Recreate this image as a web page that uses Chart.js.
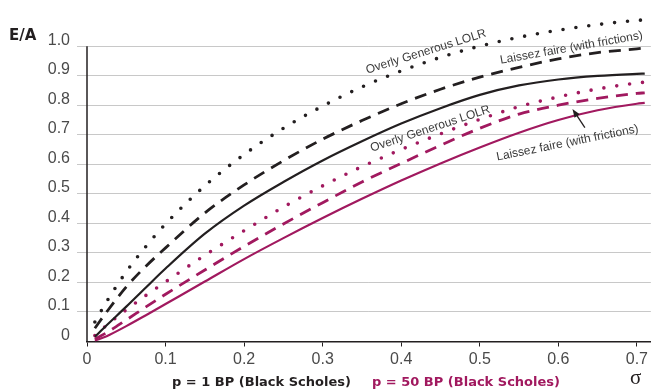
<!DOCTYPE html>
<html>
<head>
<meta charset="utf-8">
<script src="https://cdn.jsdelivr.net/npm/chart.js@4.4.1/dist/chart.umd.min.js"></script>
<style>
  body { margin: 0; background: #fff; }
  canvas { display: block; }
</style>
</head>
<body>
<canvas id="eaChart" width="651" height="391"></canvas>
<script>
// volatility (x axis)
const sigma = [0.01, 0.025, 0.05, 0.075, 0.1, 0.15, 0.2, 0.25, 0.3, 0.35, 0.4, 0.45, 0.5, 0.55, 0.6, 0.65, 0.7, 0.71];

// p = 1 BP series
const bpOneOverly = [0.066, 0.135, 0.236, 0.322, 0.398, 0.527, 0.633, 0.722, 0.797, 0.862, 0.916, 0.962, 1.0, 1.03, 1.054, 1.073, 1.087, 1.089];
const bpOneLaissez = [0.045, 0.1, 0.185, 0.255, 0.317, 0.435, 0.53, 0.612, 0.685, 0.748, 0.805, 0.854, 0.895, 0.928, 0.957, 0.978, 0.991, 0.994];
const bpOneBase = [0.016, 0.055, 0.118, 0.183, 0.247, 0.365, 0.46, 0.54, 0.613, 0.678, 0.738, 0.79, 0.835, 0.867, 0.887, 0.899, 0.906, 0.907];

// p = 50 BP series
const bpFiftyOverly = [0.02, 0.055, 0.107, 0.156, 0.202, 0.292, 0.375, 0.455, 0.527, 0.592, 0.65, 0.703, 0.752, 0.795, 0.828, 0.855, 0.875, 0.878];
const bpFiftyLaissez = [0.008, 0.03, 0.073, 0.117, 0.16, 0.242, 0.322, 0.398, 0.47, 0.54, 0.603, 0.664, 0.722, 0.77, 0.8, 0.823, 0.84, 0.842];
const bpFiftyBase = [0.003, 0.018, 0.052, 0.089, 0.127, 0.203, 0.279, 0.35, 0.418, 0.483, 0.545, 0.603, 0.657, 0.707, 0.75, 0.783, 0.805, 0.808];

// tick labels
const xTicks = [0, 0.1, 0.2, 0.3, 0.4, 0.5, 0.6, 0.7];
const yTicks = [0, 0.1, 0.2, 0.3, 0.4, 0.5, 0.6, 0.7, 0.8, 0.9, 1.0];

// curve labels (in data units) and the arrow
const curveLabels = [
  { text: "Overly Generous LOLR", x: 0.4315, y: 0.981, angle: -17.4 },
  { text: "Laissez faire (with frictions)", x: 0.6167, y: 0.994, angle: -10 },
  { text: "Overly Generous LOLR", x: 0.437, y: 0.72, angle: -18.4 },
  { text: "Laissez faire (with frictions)", x: 0.6116, y: 0.672, angle: -11.3 }
];
const arrowFrom = { x: 0.6338, y: 0.724 };
const arrowTo = { x: 0.618, y: 0.7875 };

const black = "#231f20";
const magenta = "#a1195f";

function pts(ys) {
  return sigma.map((s, i) => ({ x: s, y: ys[i] }));
}

function series(ys, color, style) {
  const ds = {
    data: pts(ys),
    borderColor: color,
    borderWidth: 2.2,
    pointRadius: 0,
    fill: false,
    cubicInterpolationMode: "monotone"
  };
  if (style === "dot") {
    ds.borderDash = [0, 13];
    ds.borderCapStyle = "round";
    ds.borderWidth = 3.6;
  } else if (style === "dash") {
    ds.borderDash = [12, 8];
    ds.borderWidth = 2.8;
  }
  return ds;
}

// labels, arrow, axis line and bottom captions
const decorations = {
  id: "decorations",
  afterDatasetsDraw(chart) {
    const ctx = chart.ctx;
    const xs = chart.scales.x;
    const ys = chart.scales.y;
    const area = chart.chartArea;

    ctx.save();
    // y axis line, only up to 1.0
    ctx.strokeStyle = black;
    ctx.lineWidth = 1.5;
    ctx.beginPath();
    ctx.moveTo(area.left, ys.getPixelForValue(0));
    ctx.lineTo(area.left, ys.getPixelForValue(1.0));
    ctx.stroke();

    // curve labels
    ctx.fillStyle = "#3a3a3a";
    ctx.font = "12px 'Liberation Sans', Arial, sans-serif";
    ctx.textAlign = "center";
    ctx.textBaseline = "middle";
    curveLabels.forEach((l) => {
      ctx.save();
      ctx.translate(xs.getPixelForValue(l.x), ys.getPixelForValue(l.y));
      ctx.rotate((l.angle * Math.PI) / 180);
      ctx.fillText(l.text, 0, 0);
      ctx.restore();
    });

    // arrow
    const x1 = xs.getPixelForValue(arrowFrom.x);
    const y1 = ys.getPixelForValue(arrowFrom.y);
    const x2 = xs.getPixelForValue(arrowTo.x);
    const y2 = ys.getPixelForValue(arrowTo.y);
    const a = Math.atan2(y2 - y1, x2 - x1);
    ctx.strokeStyle = black;
    ctx.fillStyle = black;
    ctx.lineWidth = 1.3;
    ctx.beginPath();
    ctx.moveTo(x1, y1);
    ctx.lineTo(x2 - 6 * Math.cos(a), y2 - 6 * Math.sin(a));
    ctx.stroke();
    ctx.beginPath();
    ctx.moveTo(x2, y2);
    ctx.lineTo(x2 - 9 * Math.cos(a - 0.35), y2 - 9 * Math.sin(a - 0.35));
    ctx.lineTo(x2 - 9 * Math.cos(a + 0.35), y2 - 9 * Math.sin(a + 0.35));
    ctx.closePath();
    ctx.fill();

    // E/A title
    ctx.fillStyle = black;
    ctx.font = "bold 15px 'DejaVu Sans', sans-serif";
    ctx.textAlign = "left";
    ctx.textBaseline = "alphabetic";
    ctx.fillText("E/A", 9, 40);

    // bottom captions
    ctx.font = "bold 13px 'DejaVu Sans', sans-serif";
    ctx.fillStyle = black;
    ctx.fillText("p = 1 BP (Black Scholes)", 172, 386);
    ctx.fillStyle = magenta;
    ctx.fillText("p = 50 BP (Black Scholes)", 372, 386);

    ctx.fillStyle = black;
    ctx.font = "21px 'Liberation Serif', serif";
    ctx.fillText("σ", 630, 384);
    ctx.restore();
  }
};

new Chart(document.getElementById("eaChart"), {
  type: "line",
  data: {
    datasets: [
      series(bpOneOverly, black, "dot"),
      series(bpOneLaissez, black, "dash"),
      series(bpOneBase, black, "solid"),
      series(bpFiftyOverly, magenta, "dot"),
      series(bpFiftyLaissez, magenta, "dash"),
      series(bpFiftyBase, magenta, "solid")
    ]
  },
  options: {
    responsive: false,
    animation: false,
    devicePixelRatio: 1,
    layout: { padding: { top: 10, right: 0, left: 0, bottom: 0 } },
    plugins: { legend: { display: false }, tooltip: { enabled: false } },
    scales: {
      x: {
        type: "linear",
        min: 0,
        max: 0.7178,
        afterBuildTicks: (axis) => {
          axis.ticks = xTicks.map((v) => ({ value: v }));
        },
        afterFit: (axis) => {
          axis.height = 49.5;
        },
        ticks: {
          padding: 3,
          color: "#4a4a4a",
          font: { family: "'Liberation Sans', Arial, sans-serif", size: 16 },
          maxRotation: 0,
          callback: (v) => (v === 0 ? "0" : v.toFixed(1))
        },
        grid: {
          drawOnChartArea: false,
          drawTicks: true,
          tickLength: 5,
          color: black
        },
        border: { display: true, color: black, width: 1.5 }
      },
      y: {
        type: "linear",
        min: 0,
        max: 1.1,
        afterBuildTicks: (axis) => {
          axis.ticks = yTicks.map((v) => ({ value: v }));
        },
        afterFit: (axis) => {
          axis.width = 87;
        },
        ticks: {
          padding: 7,
          labelOffset: -6,
          color: "#4a4a4a",
          font: { family: "'Liberation Sans', Arial, sans-serif", size: 16 },
          callback: (v) => (v === 0 ? "0" : v.toFixed(1))
        },
        grid: {
          tickLength: 10,
          lineWidth: 1,
          color: (c) => (c.tick && c.tick.value === 0 ? "rgba(0,0,0,0)" : "#c8c8c8")
        },
        border: { display: false }
      }
    }
  },
  plugins: [decorations]
});
</script>
</body>
</html>
